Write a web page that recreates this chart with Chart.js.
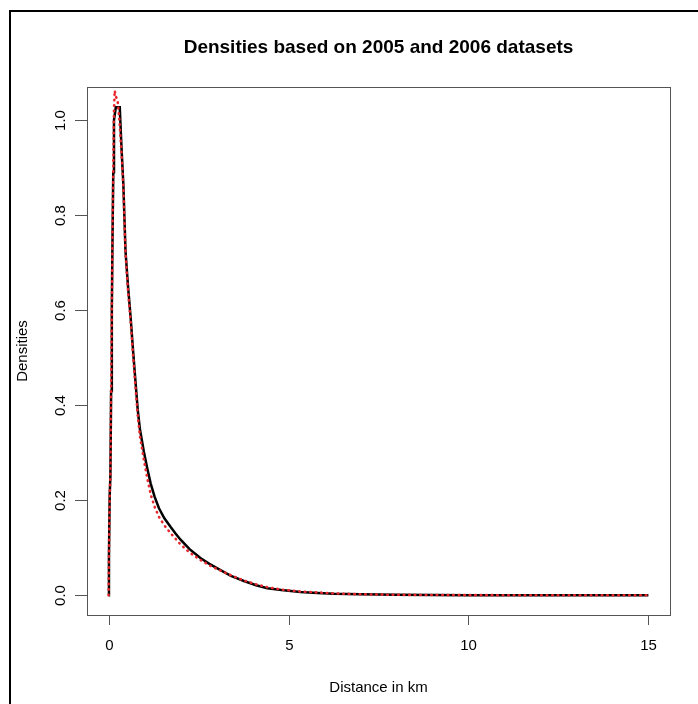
<!DOCTYPE html>
<html><head><meta charset="utf-8">
<script src="https://cdn.jsdelivr.net/npm/chart.js@4/dist/chart.umd.min.js"></script>
<style>html,body{margin:0;padding:0;background:#fff;}#wrap{position:relative;width:698px;height:704px;}</style>
</head><body><div id="wrap"><canvas id="c" width="698" height="704"></canvas></div>
<script>
const titleText = "Densities based on 2005 and 2006 datasets";
const xAxisLabel = "Distance in km";
const yAxisLabel = "Densities";
const xTicks = [0, 5, 10, 15];
const xTickLabels = ["0", "5", "10", "15"];
const yTicks = [0.0, 0.2, 0.4, 0.6, 0.8, 1.0];
const yTickLabels = ["0.0", "0.2", "0.4", "0.6", "0.8", "1.0"];

const dist2005 = [0, 0.01, 0.03, 0.05, 0.07, 0.09, 0.11, 0.13, 0.15, 0.2, 0.25, 0.31, 0.36, 0.41, 0.47, 0.54, 0.61, 0.68, 0.75, 0.81, 0.87, 0.98, 1.08, 1.17, 1.28, 1.4, 1.55, 1.72, 1.86, 2.0, 2.25, 2.56, 2.8, 3.11, 3.4, 3.76, 4.1, 4.41, 4.8, 5.33, 5.8, 6.26, 7, 8, 9, 10, 11, 12, 13, 14, 15];
const dens2005 = [0, 0.08, 0.21, 0.25, 0.43, 0.6, 0.76, 0.89, 1.0, 1.027, 1.027, 1.027, 0.94, 0.865, 0.724, 0.65, 0.587, 0.515, 0.447, 0.39, 0.35, 0.302, 0.265, 0.235, 0.207, 0.183, 0.162, 0.144, 0.13, 0.117, 0.097, 0.078, 0.066, 0.053, 0.041, 0.03, 0.021, 0.015, 0.011, 0.007, 0.005, 0.003, 0.002, 0.001, 0.0005, 0.0003, 0.0002, 0.0001, 0, 0, 0];

const dist2006 = [0, 0.01, 0.03, 0.05, 0.07, 0.09, 0.11, 0.13, 0.15, 0.17, 0.2, 0.25, 0.3, 0.36, 0.41, 0.47, 0.54, 0.61, 0.68, 0.75, 0.81, 0.87, 0.98, 1.08, 1.17, 1.28, 1.4, 1.55, 1.72, 1.86, 2.0, 2.25, 2.56, 2.8, 3.11, 3.4, 3.76, 4.1, 4.41, 4.8, 5.33, 5.8, 6.26, 7, 8, 9, 10, 11, 12, 13, 14, 15];
const dens2006 = [0, 0.08, 0.21, 0.25, 0.43, 0.6, 0.77, 0.9, 1.02, 1.062, 1.05, 1.042, 1.0, 0.93, 0.86, 0.72, 0.64, 0.58, 0.505, 0.435, 0.378, 0.335, 0.285, 0.245, 0.212, 0.186, 0.165, 0.147, 0.131, 0.119, 0.107, 0.09, 0.074, 0.063, 0.052, 0.042, 0.031, 0.023, 0.017, 0.012, 0.008, 0.006, 0.004, 0.002, 0.001, 0.0005, 0.0003, 0.0002, 0.0001, 0, 0, 0];

const FONT = '"Liberation Sans", Arial, Helvetica, sans-serif';

const rStylePlugin = {
  id: 'rStyle',
  afterDraw(chart) {
    const ctx = chart.ctx;
    const a = chart.chartArea;
    const xs = chart.scales.x, ys = chart.scales.y;
    ctx.save();
    // outer frame (top and left)
    ctx.fillStyle = '#000';
    ctx.fillRect(9, 10, 698 - 9, 2);
    ctx.fillRect(9, 10, 2, 704 - 10);
    // plot box
    ctx.strokeStyle = '#555';
    ctx.lineWidth = 1;
    ctx.strokeRect(Math.round(a.left) + 0.5, Math.round(a.top) + 0.5, Math.round(a.right - a.left), Math.round(a.bottom - a.top));
    // x ticks
    ctx.fillStyle = '#000';
    ctx.font = '15px ' + FONT;
    ctx.textAlign = 'center';
    ctx.textBaseline = 'middle';
    xTicks.forEach((v, i) => {
      const px = Math.round(xs.getPixelForValue(v)) + 0.5;
      ctx.beginPath();
      ctx.moveTo(px, a.bottom);
      ctx.lineTo(px, a.bottom + 10);
      ctx.stroke();
      ctx.fillText(xTickLabels[i], px, 646);
    });
    // y ticks (rotated labels)
    yTicks.forEach((v, i) => {
      const py = Math.round(ys.getPixelForValue(v)) + 0.5;
      ctx.beginPath();
      ctx.moveTo(a.left, py);
      ctx.lineTo(a.left - 12, py);
      ctx.stroke();
      ctx.save();
      ctx.translate(61, py);
      ctx.rotate(-Math.PI / 2);
      ctx.fillText(yTickLabels[i], 0, 0);
      ctx.restore();
    });
    // axis titles
    ctx.fillText(xAxisLabel, (a.left + a.right) / 2, 688);
    ctx.save();
    ctx.translate(23, (a.top + a.bottom) / 2);
    ctx.rotate(-Math.PI / 2);
    ctx.fillText(yAxisLabel, 0, 0);
    ctx.restore();
    // main title
    ctx.font = 'bold 19px ' + FONT;
    ctx.fillText(titleText, (a.left + a.right) / 2, 48);
    ctx.restore();
  }
};

new Chart(document.getElementById('c'), {
  type: 'scatter',
  data: {
    datasets: [
      {
        label: '2005',
        data: dist2005.map((x, i) => ({ x: x, y: dens2005[i] })),
        showLine: true,
        borderColor: '#000000',
        borderWidth: 2.5,
        pointRadius: 0,
        tension: 0,
        order: 2
      },
      {
        label: '2006',
        data: dist2006.map((x, i) => ({ x: x, y: dens2006[i] })),
        showLine: true,
        borderColor: '#e8262c',
        borderWidth: 2.6,
        borderDash: [0.5, 5],
        borderCapStyle: 'round',
        pointRadius: 0,
        tension: 0,
        order: 1
      }
    ]
  },
  options: {
    responsive: false,
    animation: false,
    devicePixelRatio: 1,
    layout: { padding: { left: 87, right: 28, top: 87, bottom: 89 } },
    plugins: { legend: { display: false }, tooltip: { enabled: false }, title: { display: false } },
    scales: {
      x: { type: 'linear', min: -0.6, max: 15.6, display: false },
      y: { type: 'linear', min: -0.0415, max: 1.0696, display: false }
    }
  },
  plugins: [rStylePlugin]
});
</script>
</body></html>
